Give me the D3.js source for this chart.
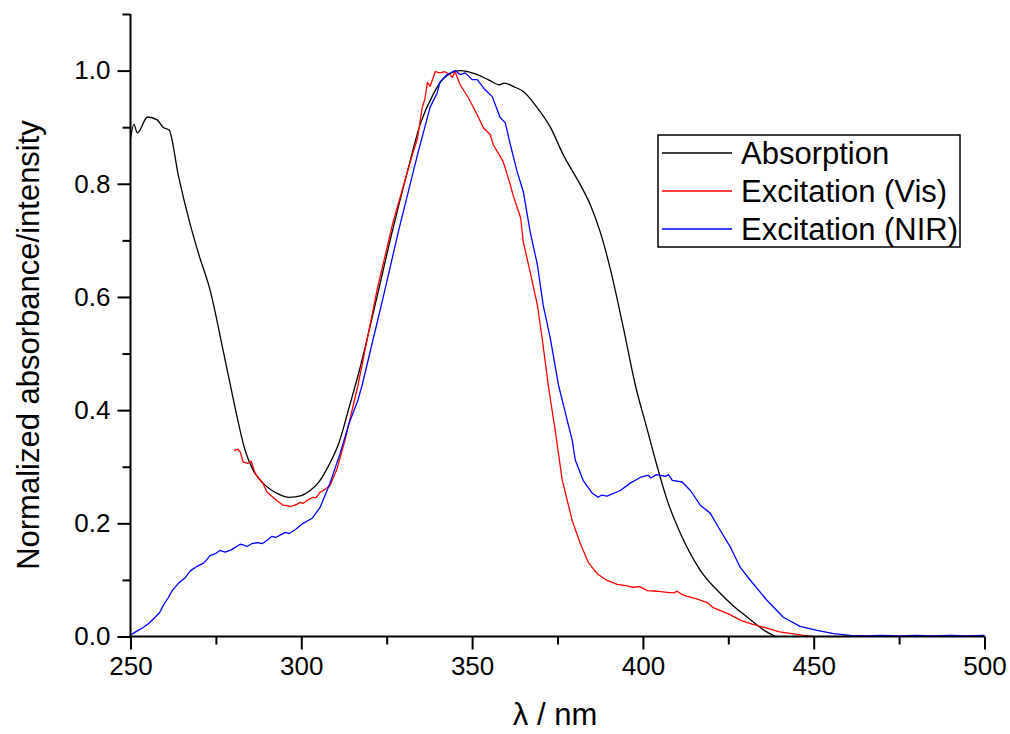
<!DOCTYPE html>
<html>
<head>
<meta charset="utf-8">
<script src="https://cdn.jsdelivr.net/npm/d3@7"></script>
<style>
  body { margin: 0; background: #fff; }
  svg { display: block; font-family: "Liberation Sans", Arial, sans-serif; }
</style>
</head>
<body>
<svg id="chart" width="1010" height="734"></svg>
<script>
// wavelength (nm) and normalized value for each trace
var absWl = [250, 251, 252, 255, 257.8, 259.5, 261.3, 264, 267.4, 270, 273.3, 277.1, 279.1, 281.2, 283.5, 285.9,
  288.8, 292.9, 296.5, 300, 302.6, 305, 308, 311, 314, 317, 321, 326, 331, 334.8, 338.6, 341.5, 346.5, 351.5,
  355, 358, 359.5, 362, 365, 369, 372.9, 376.7, 381.7, 384.6, 387.5, 390.4, 394.3, 397.8, 401.3, 404.2, 407.1,
  411, 416.8, 422.7, 426.5, 430.6, 433.5, 436, 438.8];
var absVal = [0.88, 0.905, 0.89, 0.918, 0.913, 0.90, 0.895, 0.815, 0.73, 0.675, 0.612, 0.506, 0.448, 0.388, 0.33, 0.294,
  0.271, 0.253, 0.246, 0.249, 0.258, 0.272, 0.302, 0.342, 0.405, 0.47, 0.57, 0.7, 0.82, 0.905, 0.958, 0.985, 1.0, 0.993,
  0.983, 0.975, 0.978, 0.972, 0.963, 0.935, 0.9, 0.851, 0.798, 0.763, 0.715, 0.651, 0.545, 0.444, 0.365, 0.3, 0.241,
  0.182, 0.117, 0.076, 0.054, 0.034, 0.02, 0.009, 0];

var visWl = [280.3, 281.5, 282.2, 283, 284.4, 285.3, 286.5, 288.8, 290, 292.9, 294.7, 296.7, 297.5, 298.8, 299.7, 300.5,
  301.6, 303.5, 304.3, 305.5, 306.5, 308.4, 310.5, 312.8, 316.6, 322.3, 326.9, 332.5, 334, 335.4, 336.2, 336.9, 337.7,
  339.2, 340.6, 342, 343.5, 344.2, 345, 346.5, 348.9, 351.5, 353.3, 355.3, 356.2, 359.1, 361.2, 362, 364.2, 365, 367,
  369.1, 370.5, 372.3, 374.3, 376.4, 379.3, 381.7, 384, 386.6, 389.5, 392.5, 395, 397.2, 399, 401.3, 404, 407.1, 409,
  410, 411.5, 413, 416, 418.8, 420.6, 425, 428.9, 432, 436.8, 440, 443.6, 447, 450];
var visVal = [0.329, 0.331, 0.325, 0.308, 0.306, 0.31, 0.288, 0.27, 0.255, 0.24, 0.232, 0.23, 0.231, 0.234, 0.237, 0.235,
  0.24, 0.246, 0.245, 0.255, 0.258, 0.267, 0.297, 0.347, 0.444, 0.616, 0.733, 0.851, 0.88, 0.935, 0.95, 0.979, 0.972,
  0.998, 0.996, 0.998, 0.993, 0.988, 0.998, 0.975, 0.952, 0.922, 0.899, 0.887, 0.869, 0.839, 0.798, 0.78, 0.74, 0.697, 0.644,
  0.586, 0.527, 0.444, 0.365, 0.276, 0.205, 0.164, 0.131, 0.111, 0.099, 0.092, 0.09, 0.087, 0.088, 0.081, 0.08, 0.078, 0.077,
  0.08, 0.074, 0.071, 0.066, 0.06, 0.051, 0.04, 0.028, 0.022, 0.014, 0.008, 0.005, 0.002, 0];

var nirWl = [250, 250.7, 252, 253.7, 255.5, 257.2, 258.5, 259.6, 261, 262.2, 264, 266, 267.5, 269.5, 271.5, 273.3, 275,
  276.2, 277.7, 279.5, 282.1, 283, 284.1, 285.5, 287.3, 288.5, 290, 291.4, 292.5, 295.3, 296.5, 298.5, 300.5, 303.2,
  305.5, 308.4, 311.4, 314, 316.6, 317.8, 324, 328.4, 334, 337.7, 339.8, 340.6, 342.7, 345, 346.5, 348, 350, 351.5,
  353.8, 355.9, 358.2, 359.7, 361.2, 363.2, 365, 367, 369.1, 370.8, 372.9, 375.3, 377.3, 379.3, 380.2, 382.5, 385.2,
  386.9, 388, 389.5, 393.4, 396.3, 399.2, 401.6, 402.3, 404, 406.6, 407.5, 408.6, 411.5, 413.9, 416.8, 419.7, 422.1,
  425.6, 428.5, 431.5, 436.3, 441.1, 446, 451, 455.8, 460.7, 465, 470, 475, 480, 485, 490, 495, 500];
var nirVal = [0.003, 0.005, 0.01, 0.016, 0.024, 0.034, 0.042, 0.055, 0.068, 0.081, 0.094, 0.104, 0.116, 0.124, 0.13, 0.143, 0.147,
  0.152, 0.149, 0.153, 0.163, 0.162, 0.159, 0.164, 0.166, 0.164, 0.17, 0.177, 0.175, 0.184, 0.182, 0.19, 0.2, 0.209,
  0.228, 0.271, 0.324, 0.377, 0.418, 0.444, 0.6, 0.715, 0.851, 0.935, 0.961, 0.98, 0.993, 1.0, 0.993, 0.996, 0.984, 0.984,
  0.966, 0.954, 0.917, 0.908, 0.869, 0.821, 0.786, 0.715, 0.657, 0.586, 0.527, 0.444, 0.395, 0.347, 0.312, 0.276, 0.253,
  0.246, 0.25, 0.248, 0.258, 0.271, 0.281, 0.285, 0.28, 0.286, 0.283, 0.286, 0.276, 0.273, 0.258, 0.232, 0.218, 0.193,
  0.158, 0.122, 0.099, 0.064, 0.034, 0.018, 0.011, 0.005, 0.002, 0.001, 0.002, 0.001, 0.002, 0.001, 0.002, 0.001, 0.002];

var seriesNames = ['Absorption', 'Excitation (Vis)', 'Excitation (NIR)'];
var seriesColors = ['#000000', '#ff0000', '#0000ff'];
var xMajorTicks = [250, 300, 350, 400, 450, 500];
var xMinorTicks = [275, 325, 375, 425, 475];
var yMajorTicks = [0, 0.2, 0.4, 0.6, 0.8, 1.0];
var yMinorTicks = [0.1, 0.3, 0.5, 0.7, 0.9, 1.1];

var svg = d3.select('#chart');
var padL = 130.5, padR = 984.5, padT = 14, padB = 636.5;
var fontFam = '"Liberation Sans", Arial, sans-serif';

var x = d3.scaleLinear().domain([250, 500]).range([padL, padR]);
var y = d3.scaleLinear().domain([0, 1.1]).range([padB, padT]);

// traces
var traces = [
  { wl: absWl, val: absVal, curve: d3.curveMonotoneX },
  { wl: visWl, val: visVal, curve: d3.curveLinear },
  { wl: nirWl, val: nirVal, curve: d3.curveLinear }
];

var g = svg.append('g');
traces.forEach(function(t, i) {
  var pts = t.wl.map(function(w, k) { return [w, t.val[k]]; });
  var line = d3.line()
    .x(function(d) { return x(d[0]); })
    .y(function(d) { return y(d[1]); })
    .curve(t.curve);
  g.append('path')
    .datum(pts)
    .attr('d', line)
    .attr('fill', 'none')
    .attr('stroke', seriesColors[i])
    .attr('stroke-width', 1.3)
    .attr('stroke-linejoin', 'round');
});

/* axes: major ticks carry labels, minor ticks are shorter */
function styleAxis(sel) {
  sel.attr('font-family', fontFam).attr('font-size', 26);
  sel.selectAll('path.domain').remove();
  sel.selectAll('line').attr('stroke', '#000').attr('stroke-width', 2);
  sel.selectAll('text').attr('fill', '#000');
}

svg.append('g')
  .attr('transform', 'translate(0,' + padB + ')')
  .call(d3.axisBottom(x).tickValues(xMajorTicks).tickSize(13).tickPadding(7).tickFormat(d3.format('d')))
  .call(styleAxis);
svg.append('g')
  .attr('transform', 'translate(0,' + padB + ')')
  .call(d3.axisBottom(x).tickValues(xMinorTicks).tickSize(8).tickFormat(''))
  .call(styleAxis);
svg.append('g')
  .attr('transform', 'translate(' + padL + ',0)')
  .call(d3.axisLeft(y).tickValues(yMajorTicks).tickSize(13).tickPadding(7).tickFormat(d3.format('.1f')))
  .call(styleAxis);
svg.append('g')
  .attr('transform', 'translate(' + padL + ',0)')
  .call(d3.axisLeft(y).tickValues(yMinorTicks).tickSize(8).tickFormat(''))
  .call(styleAxis);

svg.append('line')
  .attr('x1', padL).attr('x2', padL).attr('y1', y(1.1)).attr('y2', padB + 1)
  .attr('stroke', '#000').attr('stroke-width', 2);
svg.append('line')
  .attr('x1', padL - 1).attr('x2', padR).attr('y1', padB).attr('y2', padB)
  .attr('stroke', '#000').attr('stroke-width', 2);

// axis titles
svg.append('text')
  .attr('x', 555).attr('y', 725)
  .attr('text-anchor', 'middle')
  .attr('font-size', 31)
  .text('\u03bb / nm');
svg.append('text')
  .attr('transform', 'translate(39,' + 345 + ') rotate(-90)')
  .attr('text-anchor', 'middle')
  .attr('font-size', 31)
  .text('Normalized absorbance/intensity');

// legend
var leg = svg.append('g').attr('transform', 'translate(658,135)');
leg.append('rect')
  .attr('width', 302).attr('height', 112)
  .attr('fill', '#fff').attr('stroke', '#000').attr('stroke-width', 1.5);
seriesNames.forEach(function(name, i) {
  var cy = 18 + i * 38;
  leg.append('line')
    .attr('x1', 4).attr('x2', 74).attr('y1', cy).attr('y2', cy)
    .attr('stroke', seriesColors[i]).attr('stroke-width', 1.5);
  leg.append('text')
    .attr('x', 83).attr('y', cy + 11)
    .attr('font-size', 31)
    .text(name);
});
</script>
</body>
</html>
